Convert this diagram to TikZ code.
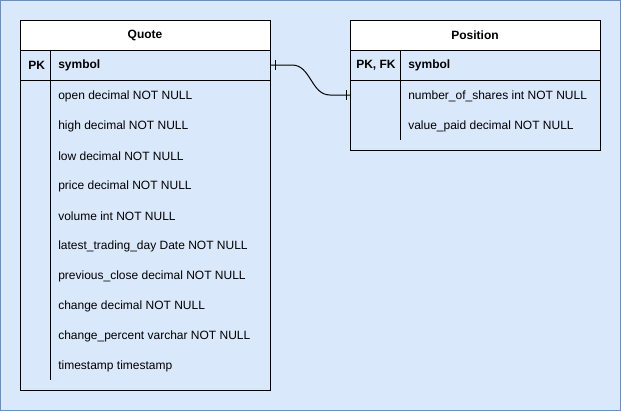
\documentclass[tikz,border=0pt]{standalone}
\usepackage{fontspec}
\setmainfont{Liberation Sans}
\begin{document}
\begin{tikzpicture}[x=0.75pt,y=-0.75pt,
  tbl/.style={draw=black,line width=0.75pt},
  hdr/.style={draw=black,fill=white,line width=0.75pt},
  sep/.style={draw=black,line width=0.75pt},
  fld/.style={anchor=west,inner sep=0pt,font=\fontsize{9}{10}\selectfont},
  key/.style={anchor=west,inner sep=0pt,font=\fontsize{9}{10}\selectfont\bfseries},
  ttl/.style={inner sep=0pt,font=\fontsize{9}{10}\selectfont\bfseries},
  rel/.style={draw=black,line width=0.75pt}]
\fill[fill=blue!0,fill={rgb,255:red,218;green,232;blue,252}] (0,0) rectangle (621,411);
\draw[draw={rgb,255:red,108;green,142;blue,191},line width=0.75pt] (0.5,0.5) rectangle (620.5,410.5);
\useasboundingbox (0,0) rectangle (621,411);
% Quote table
\draw[hdr] (20,20) rectangle (270,50);
\draw[tbl] (20,50) rectangle (270,390);
\draw[sep] (20,80) -- (270,80);
\draw[sep] (50,50) -- (50,380);
\node[ttl] (qt) at (145,35) {Quote};
\node[key] (qpk) at (28,65) {PK};
\node[key] (qsym) at (58,65) {symbol};
\node[fld] (q1) at (58,96) {open decimal NOT NULL};
\node[fld] (q2) at (58,126) {high decimal NOT NULL};
\node[fld] (q3) at (58,156) {low decimal NOT NULL};
\node[fld] (q4) at (58,186) {price decimal NOT NULL};
\node[fld] (q5) at (58,216) {volume int NOT NULL};
\node[fld] (q6) at (58,246) {latest\_trading\_day Date NOT NULL};
\node[fld] (q7) at (58,276) {previous\_close decimal NOT NULL};
\node[fld] (q8) at (58,306) {change decimal NOT NULL};
\node[fld] (q9) at (58,336) {change\_percent varchar NOT NULL};
\node[fld] (q10) at (58,366) {timestamp timestamp};
% Position table
\draw[hdr] (350,20) rectangle (600,50);
\draw[tbl] (350,50) rectangle (600,150);
\draw[sep] (350,80) -- (600,80);
\draw[sep] (400,50) -- (400,140);
\node[ttl] (pt) at (475,35) {Position};
\node[key] (ppk) at (356,65) {PK, FK};
\node[key] (psym) at (408,65) {symbol};
\node[fld] (p1) at (408,96) {number\_of\_shares int NOT NULL};
\node[fld] (p2) at (408,126) {value\_paid decimal NOT NULL};
% relation
\coordinate (qa) at (270,65);
\coordinate (pb) at (350,95);
\draw[rel] (qa) -- ++(22,0) .. controls (311,65) and (311,95) .. (330,95) -- (pb);
\draw[rel] ([xshift=4]qa) ++(0,-5) -- ++(0,10);
\draw[rel] ([xshift=-3]pb) ++(0,-5) -- ++(0,10);
\end{tikzpicture}
\end{document}
